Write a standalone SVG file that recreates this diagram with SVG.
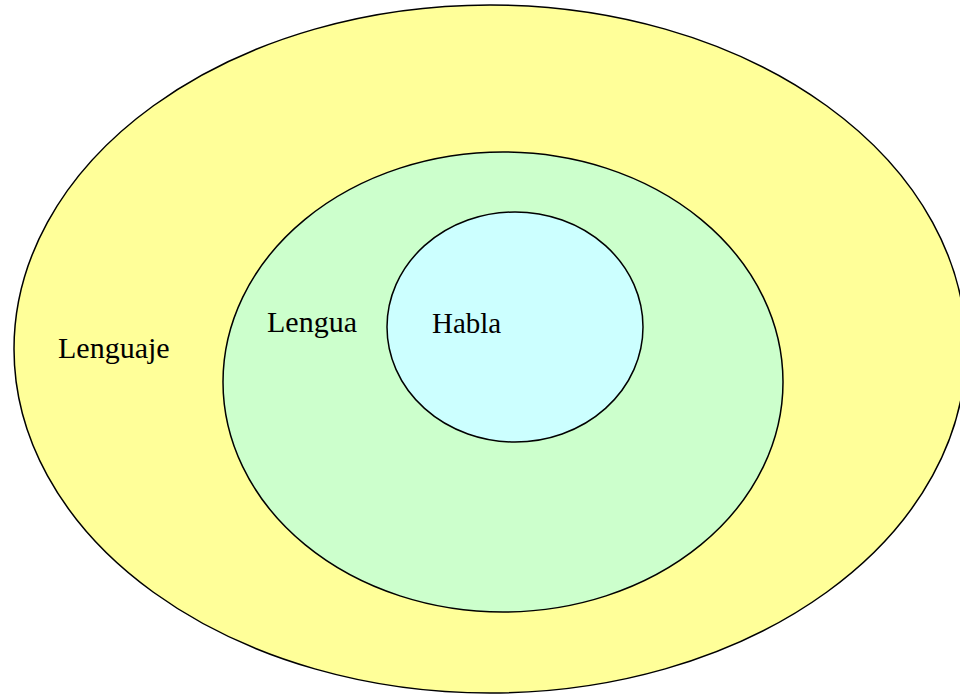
<svg xmlns="http://www.w3.org/2000/svg" width="960" height="696" viewBox="0 0 960 696">
<style>
.e{stroke:#000;stroke-width:1.5}
</style>
<rect width="960" height="696" fill="#fff"/>
<g id="lenguaje">
<ellipse class="e" cx="490" cy="349" rx="476" ry="344" fill="#FFFF99"/>
<text x="58" y="358" font-family="'Liberation Serif', 'Times New Roman', 'DejaVu Serif', serif" font-size="30" fill="#000">Lenguaje</text>
</g>
<g id="lengua">
<ellipse class="e" cx="503" cy="382" rx="280" ry="230" fill="#CCFFCC"/>
<text x="267" y="332" font-family="'Liberation Serif', 'Times New Roman', 'DejaVu Serif', serif" font-size="30" fill="#000">Lengua</text>
</g>
<g id="habla">
<ellipse class="e" cx="515" cy="327" rx="128" ry="115" fill="#CCFFFF"/>
<text x="432" y="333" font-family="'Liberation Serif', 'Times New Roman', 'DejaVu Serif', serif" font-size="29" fill="#000">Habla</text>
</g>
<g id="connectors"/>
</svg>
